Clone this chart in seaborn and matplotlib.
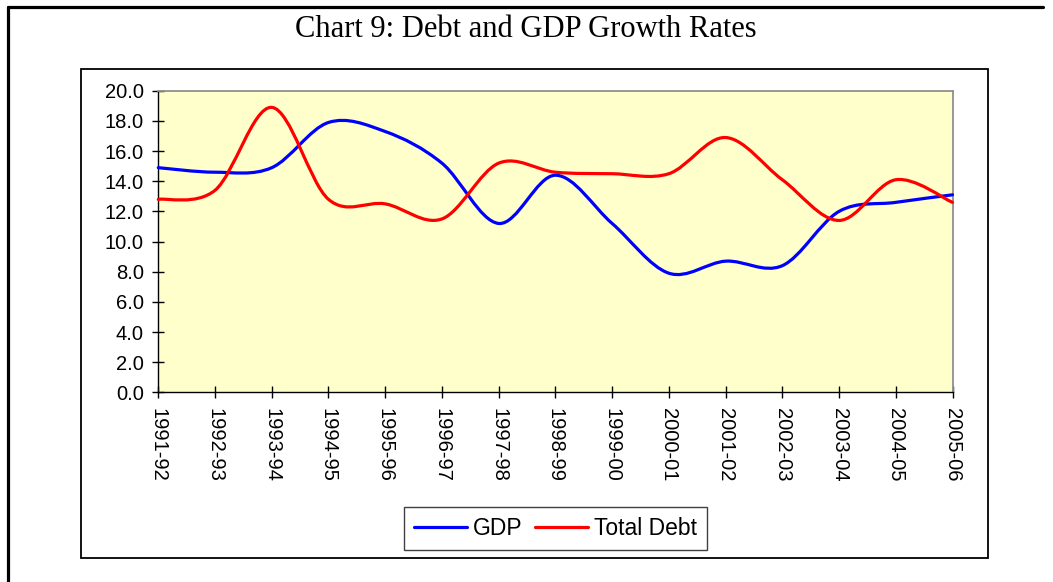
import numpy as np
import pandas as pd
import matplotlib
matplotlib.use("Agg")
import matplotlib.pyplot as plt
import seaborn as sns
from matplotlib.path import Path
from matplotlib.patches import PathPatch, Rectangle
from matplotlib.lines import Line2D

# ---- data ----
years = ["1991-92", "1992-93", "1993-94", "1994-95", "1995-96", "1996-97",
         "1997-98", "1998-99", "1999-00", "2000-01", "2001-02", "2002-03",
         "2003-04", "2004-05", "2005-06"]
gdp = [14.9, 14.6, 14.9, 17.9, 17.3, 15.2, 11.2, 14.4, 11.2, 7.9, 8.7, 8.4,
       12.0, 12.6, 13.1]
debt = [12.8, 13.4, 18.9, 12.8, 12.5, 11.5, 15.2, 14.6, 14.5, 14.5, 16.9,
        14.1, 11.4, 14.1, 12.6]
series_names = ["GDP", "Total Debt"]
colors = {"GDP": "#0000FF", "Total Debt": "#FF0000"}
title = "Chart 9: Debt and GDP Growth Rates"
yticks = np.arange(0, 20.1, 2.0)

sns.set_theme(style="white")
plt.rcParams["font.family"] = ["Liberation Sans", "DejaVu Sans"]

W, H = 1053, 582
fig = plt.figure(figsize=(W / 100, H / 100), dpi=100)
fig.patch.set_facecolor("white")

# plot area
L, R, T, B = 158.3, 952.5, 90.8, 392.3
ax = fig.add_axes([L / W, 1 - B / H, (R - L) / W, (B - T) / H])
ax.set_facecolor("#FFFFCC")

df = pd.DataFrame({
    "Year": years * 2,
    "Value": gdp + debt,
    "Series": ["GDP"] * len(years) + ["Total Debt"] * len(years),
})
sns.lineplot(data=df, x="Year", y="Value", hue="Series", palette=colors,
             linewidth=2.3, sort=False, legend=False, ax=ax)


def smooth_path(xy):
    """Excel-style smoothed line: cubic Bezier through every data point."""
    p = np.asarray(xy, dtype=float)
    ext = np.vstack([p[0], p, p[-1]])
    verts = [p[0]]
    codes = [Path.MOVETO]
    for i in range(len(p) - 1):
        p0, p1, p2, p3 = ext[i], ext[i + 1], ext[i + 2], ext[i + 3]
        c1 = p1 + (p2 - p0) / 6.0
        c2 = p2 - (p3 - p1) / 6.0
        verts += [c1, c2, p2]
        codes += [Path.CURVE4] * 3
    return Path(verts, codes)


for line in list(ax.lines):
    patch = PathPatch(smooth_path(line.get_xydata()), facecolor="none",
                      edgecolor=line.get_color(), linewidth=line.get_linewidth(),
                      capstyle="round", joinstyle="round", zorder=3,
                      clip_on=False)
    ax.add_patch(patch)
    line.set_visible(False)

ax.set_xlim(0, len(years) - 1)
ax.set_ylim(0, 20)
ax.set_yticks(yticks)
ax.set_yticklabels([f"{v:.1f}" for v in yticks])
ax.set_xticks(range(len(years)))
ax.set_xticklabels(years)
ax.set_xlabel("")
ax.set_ylabel("")

ax.tick_params(axis="both", direction="inout", length=8, width=1,
               color="black", labelcolor="black", labelsize=14.5)
ax.tick_params(axis="y", pad=6.5, left=True)
ax.tick_params(axis="x", pad=7.5, labelrotation=270, bottom=True)
for lab in ax.get_xticklabels():
    lab.set_ha("center")
    lab.set_va("top")

for s in ["left", "bottom"]:
    ax.spines[s].set_color("black")
    ax.spines[s].set_linewidth(1.0)
for s in ["top", "right"]:
    ax.spines[s].set_color("#909090")
    ax.spines[s].set_linewidth(1.3)

# chart-area box and outer page frame
fig.add_artist(Rectangle((80.7 / W, 1 - 557.7 / H), (988 - 80.7) / W,
                         (557.7 - 68.7) / H, fill=False, edgecolor="black",
                         linewidth=1.3, transform=fig.transFigure))
fig.add_artist(Line2D([8 / W, 1043 / W], [1 - 6.7 / H, 1 - 6.7 / H],
                      color="black", linewidth=2.3, transform=fig.transFigure))
fig.add_artist(Line2D([8 / W, 8 / W], [0, 1 - 6.7 / H],
                      color="black", linewidth=2.3, transform=fig.transFigure))

fig.text(526 / W, 1 - 37 / H, title, ha="center", va="baseline",
         fontsize=22, color="black",
         family=["Liberation Serif", "DejaVu Serif"])

handles = [Line2D([], [], color=colors[n], linewidth=2.3) for n in series_names]
leg = fig.legend(handles, series_names, loc="center",
                 bbox_to_anchor=(555.5 / W, 1 - 528.5 / H),
                 bbox_transform=fig.transFigure, ncol=2, frameon=True,
                 fancybox=False, shadow=False, edgecolor="#404040",
                 facecolor="white", framealpha=1, fontsize=16.5,
                 handlelength=2.3, handletextpad=0.25, columnspacing=0.55,
                 borderpad=0.45, borderaxespad=0)
leg.get_frame().set_linewidth(1.0)
for t in leg.get_texts():
    t.set_color("black")

fig.savefig("out.png", dpi=100, facecolor="white")
